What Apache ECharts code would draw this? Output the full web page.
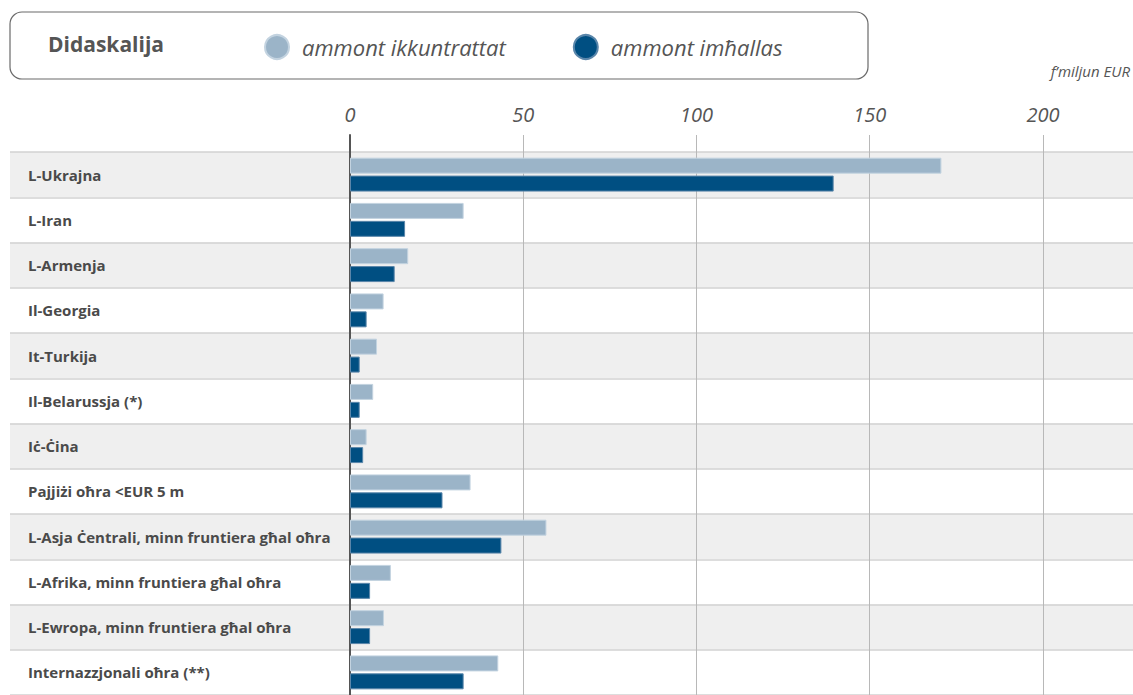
<!DOCTYPE html>
<html>
<head>
<meta charset="utf-8">
<script src="https://cdn.jsdelivr.net/npm/echarts@6/dist/echarts.min.js"></script>
<style>
  html, body { margin: 0; padding: 0; background: #fff; }
  #chart { width: 1133px; height: 695px; }
</style>
</head>
<body>
<div id="chart"></div>
<script>
// data (miljun EUR)
const categories = [
  'L-Ukrajna', 'L-Iran', 'L-Armenja', 'Il-Georgia', 'It-Turkija', 'Il-Belarussja (*)',
  'Iċ-Ċina', 'Pajjiżi oħra <EUR 5 m', 'L-Asja Ċentrali, minn fruntiera għal oħra',
  'L-Afrika, minn fruntiera għal oħra', 'L-Ewropa, minn fruntiera għal oħra',
  'Internazzjonali oħra (**)'
];
const contracted = [170.7, 32.8, 16.8, 9.7, 7.8, 6.7, 4.8, 34.8, 56.7, 11.8, 9.8, 42.8];
const paid = [139.6, 15.9, 12.9, 4.8, 2.8, 2.8, 3.8, 26.7, 43.7, 5.8, 5.8, 32.8];
const seriesNames = ['ammont ikkuntrattat', 'ammont imħallas'];
const axisMax = 226;

const font = '"Open Sans", "Noto Sans", sans-serif';
const lightBlue = '#9bb4c8';
const darkBlue = '#004f82';

const chart = echarts.init(document.getElementById('chart'), null, { renderer: 'svg' });

chart.setOption({
  backgroundColor: '#fff',
  animation: false,
  textStyle: { fontFamily: font },
  graphic: [
    {
      type: 'rect',
      shape: { x: 10, y: 12, width: 858, height: 67, r: 12 },
      style: { fill: '#fff', stroke: '#6a6a6a', lineWidth: 1.2 },
      z: -1
    },
    {
      type: 'text',
      left: 48, top: 33,
      style: { text: 'Didaskalija', fill: '#555', font: 'bold 21px ' + font }
    },
    {
      type: 'text',
      right: 3, top: 63,
      style: { text: 'f\u2019miljun EUR', fill: '#555', font: 'italic 15px ' + font }
    }
  ],
  legend: {
    left: 264, top: 34,
    padding: 0,
    icon: 'circle',
    itemWidth: 24, itemHeight: 24,
    itemGap: 67,
    data: seriesNames,
    textStyle: {
      fontFamily: font, fontStyle: 'italic', fontSize: 22, color: '#555',
      padding: [0, 0, 0, 8]
    }
  },
  grid: [
    // row shading
    { left: 10, right: 0, top: 152, bottom: 0, outerBoundsMode: 'none' },
    // value gridlines and top axis
    { left: 350, right: 0, top: 135, bottom: 0, outerBoundsMode: 'none' },
    // bars
    { left: 350, right: 0, top: 152, bottom: 0, outerBoundsMode: 'none' }
  ],
  xAxis: [
    { gridIndex: 0, type: 'value', show: false, min: 0, max: 1 },
    {
      gridIndex: 1, type: 'value', position: 'top', min: 0, max: axisMax, interval: 50,
      axisLine: { show: false }, axisTick: { show: false },
      axisLabel: {
        showMaxLabel: false, margin: 11, fontSize: 20, fontStyle: 'italic',
        color: '#555', fontFamily: font
      },
      splitLine: { show: true, showMaxLine: false, lineStyle: { color: '#b8b8b8', width: 1 } }
    },
    { gridIndex: 2, type: 'value', show: false, min: 0, max: axisMax }
  ],
  yAxis: [
    {
      gridIndex: 0, type: 'category', data: categories, inverse: true,
      axisLine: { show: false }, axisTick: { show: false }, axisLabel: { show: false },
      splitLine: { show: true, lineStyle: { color: '#d2d2d2', width: 1.5 } },
      splitArea: { show: true, areaStyle: { color: ['#efefef', '#ffffff'] } }
    },
    {
      gridIndex: 1, type: 'value',
      axisLine: { show: true, lineStyle: { color: '#555', width: 2 } },
      axisTick: { show: false }, axisLabel: { show: false }, splitLine: { show: false }
    },
    {
      gridIndex: 2, type: 'category', data: categories, inverse: true,
      axisLine: { show: false }, axisTick: { show: false },
      axisLabel: {
        align: 'left', margin: 322, fontSize: 15, fontWeight: 'bold',
        color: '#4a4a4a', fontFamily: font, padding: [12, 0, 0, 0]
      }
    }
  ],
  series: [
    {
      name: seriesNames[0], type: 'bar', xAxisIndex: 2, yAxisIndex: 2,
      data: contracted, barWidth: 16, barGap: '12%',
      itemStyle: { color: lightBlue, borderColor: '#c3d3e0', borderWidth: 1 }
    },
    {
      name: seriesNames[1], type: 'bar', xAxisIndex: 2, yAxisIndex: 2,
      data: paid, barWidth: 16,
      itemStyle: { color: darkBlue, borderColor: '#5a86aa', borderWidth: 1 }
    }
  ]
});
</script>
</body>
</html>
